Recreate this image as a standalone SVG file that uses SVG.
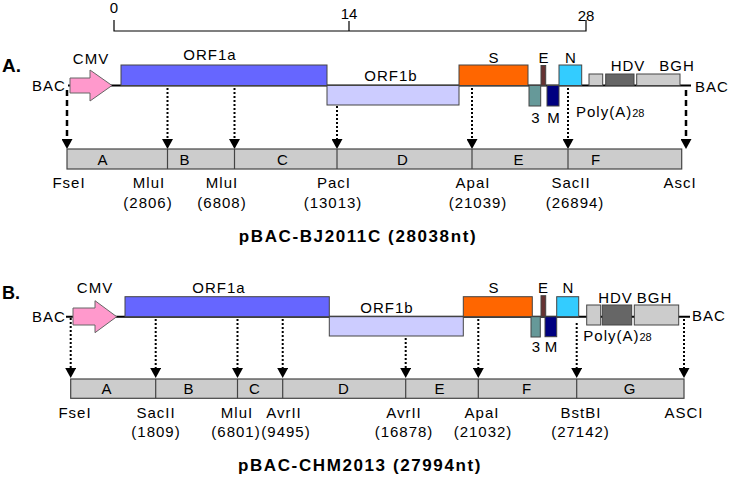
<svg xmlns="http://www.w3.org/2000/svg" width="730" height="481" viewBox="0 0 730 481">
<style>
text{font-family:"Liberation Sans",Arial,sans-serif;font-size:15px;letter-spacing:1px;fill:#000}
.m{text-anchor:middle}
.b{font-weight:bold}
.box{stroke:#444;stroke-width:1}
.bb{stroke:#000;stroke-width:2;fill:none}
.frag{fill:#cccccc;stroke:#444;stroke-width:1.2}
.div{stroke:#444;stroke-width:1.2}
.dot{stroke:#000;stroke-width:2;stroke-dasharray:2,2;fill:none}
.dash{stroke:#000;stroke-width:2.5;stroke-dasharray:6,4;fill:none}
</style>
<defs>
<marker id="ah" viewBox="0 0 10 11" refX="0" refY="5.5" markerWidth="10" markerHeight="11" markerUnits="userSpaceOnUse" orient="auto">
<path d="M0,0 L10,5.5 L0,11 Z" fill="#000"/>
</marker>
</defs>
<g id="scale">
<path d="M114,20 V31 H586 V20 M349,21 V31" stroke="#000" stroke-width="1.2" fill="none"/>
<text class="m" x="114" y="13" style="letter-spacing:0">0</text>
<text class="m" x="349" y="18.5" style="letter-spacing:0">14</text>
<text class="m" x="586" y="20.5" style="letter-spacing:0">28</text>
</g>
<!-- Panel A -->
<g id="panelA-label"><text class="b" x="2" y="72" style="font-size:19px;letter-spacing:0">A.</text></g>
<g id="A-backbone">
<line class="bb" x1="68" y1="85.5" x2="691" y2="85.5"/>
<text x="32" y="90.5">BAC</text>
<text x="695" y="91.5">BAC</text>
</g>
<g id="A-CMV"><polygon points="70,78 90,78 90,70 112,85.5 90,101 90,93 70,93" fill="#ff99cc" stroke="#666" stroke-width="1"/><text class="m" x="91" y="64">CMV</text></g>
<g id="A-ORF1a"><rect class="box" x="121" y="65" width="206" height="20.5" fill="#6666ff"/><text class="m" x="210" y="60">ORF1a</text></g>
<g id="A-ORF1b"><rect class="box" x="327" y="85.5" width="132" height="19.5" fill="#ccccff"/><text class="m" x="391" y="80.5">ORF1b</text></g>
<g id="A-S"><rect class="box" x="459" y="65" width="69" height="20.5" fill="#ff6600"/><text class="m" x="494" y="63">S</text></g>
<g id="A-E"><rect class="box" x="541" y="65.5" width="4.7" height="20" fill="#663333"/><text class="m" x="544" y="63">E</text></g>
<g id="A-N"><rect class="box" x="559" y="65" width="22.7" height="20.5" fill="#33ccff"/><text class="m" x="571" y="63">N</text></g>
<g id="A-3"><rect class="box" x="529" y="85.5" width="11.7" height="20.5" fill="#669999"/><text class="m" x="536" y="123">3</text></g>
<g id="A-M"><rect class="box" x="547" y="85.5" width="12" height="20.5" fill="#000080"/><text class="m" x="554" y="123">M</text></g>
<g id="A-polyA"><rect class="box" x="589" y="74" width="13.7" height="11.5" fill="#cccccc"/><text x="576" y="117">Poly(A)<tspan style="font-size:11px;letter-spacing:0">28</tspan></text></g>
<g id="A-HDV"><rect class="box" x="605.7" y="74" width="28.3" height="11.5" fill="#666666"/><text class="m" x="628" y="71">HDV</text></g>
<g id="A-BGH"><rect class="box" x="636.7" y="74" width="43.3" height="11.5" fill="#cccccc"/><text class="m" x="677" y="71">BGH</text></g>
<g id="A-connectors">
<line class="dash" x1="67" y1="90" x2="67" y2="139" marker-end="url(#ah)"/>
<line class="dot" x1="167.5" y1="88" x2="167.5" y2="139" marker-end="url(#ah)"/>
<line class="dot" x1="234.5" y1="88" x2="234.5" y2="139" marker-end="url(#ah)"/>
<line class="dot" x1="337" y1="106" x2="337" y2="139" marker-end="url(#ah)"/>
<line class="dot" x1="472" y1="88" x2="472" y2="139" marker-end="url(#ah)"/>
<line class="dot" x1="568" y1="88" x2="568" y2="139" marker-end="url(#ah)"/>
<line class="dash" x1="686" y1="90" x2="686" y2="139" marker-end="url(#ah)"/>
</g>
<g id="A-fragments">
<rect class="frag" x="67" y="149" width="614.7" height="20"/>
<path class="div" d="M167.5,149 V169 M234.5,149 V169 M337,149 V169 M472,149 V169 M568,149 V169"/>
<text class="m" x="103" y="165">A</text>
<text class="m" x="185" y="165">B</text>
<text class="m" x="283" y="165">C</text>
<text class="m" x="403" y="165">D</text>
<text class="m" x="519" y="165">E</text>
<text class="m" x="596" y="165">F</text>
</g>
<g id="A-sites">
<text class="m" x="69" y="188">FseI</text>
<text class="m" x="149" y="188">MluI</text><text class="m" x="148" y="207.5">(2806)</text>
<text class="m" x="222" y="188">MluI</text><text class="m" x="222" y="207.5">(6808)</text>
<text class="m" x="334" y="188">PacI</text><text class="m" x="333" y="207.5">(13013)</text>
<text class="m" x="473" y="188">ApaI</text><text class="m" x="478" y="207.5">(21039)</text>
<text class="m" x="571" y="188">SacII</text><text class="m" x="575" y="207.5">(26894)</text>
<text class="m" x="680" y="188">AscI</text>
</g>
<g id="A-title"><text class="m b" x="358" y="242" style="font-size:17px;letter-spacing:1.6px">pBAC-BJ2011C (28038nt)</text></g>
<!-- Panel B -->
<g id="panelB-label"><text class="b" x="2" y="299" style="font-size:18px;letter-spacing:0">B.</text></g>
<g id="B-backbone">
<line class="bb" x1="66" y1="316.7" x2="690" y2="316.7"/>
<text x="32" y="321.7">BAC</text>
<text x="692" y="321">BAC</text>
</g>
<g id="B-CMV"><polygon points="73,308 95,308 95,300.7 116.7,316.7 95,332.7 95,325 73,325" fill="#ff99cc" stroke="#666" stroke-width="1"/><text class="m" x="95" y="293">CMV</text></g>
<g id="B-ORF1a"><rect class="box" x="125" y="296.7" width="204.3" height="20" fill="#6666ff"/><text class="m" x="219" y="293">ORF1a</text></g>
<g id="B-ORF1b"><rect class="box" x="329.3" y="316.7" width="134" height="19.3" fill="#ccccff"/><text class="m" x="387" y="312.7">ORF1b</text></g>
<g id="B-S"><rect class="box" x="463.3" y="296.7" width="69" height="20" fill="#ff6600"/><text class="m" x="494" y="293">S</text></g>
<g id="B-E"><rect class="box" x="541" y="295.7" width="4.7" height="21" fill="#663333"/><text class="m" x="543.5" y="293">E</text></g>
<g id="B-N"><rect class="box" x="556.7" y="296.7" width="22" height="20" fill="#33ccff"/><text class="m" x="568.5" y="293">N</text></g>
<g id="B-3"><rect class="box" x="531" y="316.7" width="9.3" height="20.3" fill="#669999"/><text class="m" x="536.5" y="351.5">3</text></g>
<g id="B-M"><rect class="box" x="545" y="316.7" width="11.7" height="20" fill="#000080"/><text class="m" x="551.5" y="351.5">M</text></g>
<g id="B-polyA"><rect class="box" x="586.7" y="305" width="14" height="20" fill="#cccccc"/><text x="583.3" y="341">Poly(A)<tspan style="font-size:11px;letter-spacing:0">28</tspan></text></g>
<g id="B-HDV"><rect class="box" x="602.3" y="305" width="29.4" height="20" fill="#666666"/><text class="m" x="615.5" y="303">HDV</text></g>
<g id="B-BGH"><rect class="box" x="634.3" y="305" width="44.4" height="20" fill="#cccccc"/><text class="m" x="654.5" y="303">BGH</text></g>
<g id="B-connectors">
<line class="dot" x1="70.7" y1="318" x2="70.7" y2="368" marker-end="url(#ah)"/>
<line class="dot" x1="155.7" y1="319" x2="155.7" y2="368" marker-end="url(#ah)"/>
<line class="dot" x1="237.5" y1="319" x2="237.5" y2="368" marker-end="url(#ah)"/>
<line class="dot" x1="282.7" y1="319" x2="282.7" y2="368" marker-end="url(#ah)"/>
<line class="dot" x1="405.7" y1="338" x2="405.7" y2="368" marker-end="url(#ah)"/>
<line class="dot" x1="478.3" y1="319" x2="478.3" y2="368" marker-end="url(#ah)"/>
<line class="dot" x1="576.7" y1="323" x2="576.7" y2="368" marker-end="url(#ah)"/>
<line class="dot" x1="684" y1="319" x2="684" y2="368" marker-end="url(#ah)"/>
</g>
<g id="B-fragments">
<rect class="frag" x="70.7" y="379" width="613.3" height="19.3"/>
<path class="div" d="M155.7,379 V398.3 M237.5,379 V398.3 M282.7,379 V398.3 M405.7,379 V398.3 M478.3,379 V398.3 M576.7,379 V398.3"/>
<text class="m" x="107" y="394">A</text>
<text class="m" x="189" y="394">B</text>
<text class="m" x="255" y="394">C</text>
<text class="m" x="344" y="394">D</text>
<text class="m" x="440" y="394">E</text>
<text class="m" x="527" y="394">F</text>
<text class="m" x="630" y="394">G</text>
</g>
<g id="B-sites">
<text class="m" x="75" y="418">FseI</text>
<text class="m" x="156" y="418">SacII</text><text class="m" x="156" y="436.5">(1809)</text>
<text class="m" x="237" y="418">MluI</text><text class="m" x="236" y="436.5">(6801)</text>
<text class="m" x="284" y="418">AvrII</text><text class="m" x="286" y="436.5">(9495)</text>
<text class="m" x="404" y="418">AvrII</text><text class="m" x="404" y="436.5">(16878)</text>
<text class="m" x="482" y="418">ApaI</text><text class="m" x="483" y="436.5">(21032)</text>
<text class="m" x="581" y="418">BstBI</text><text class="m" x="580.5" y="436.5">(27142)</text>
<text class="m" x="684" y="418">ASCI</text>
</g>
<g id="B-title"><text class="m b" x="360" y="471" style="font-size:17px;letter-spacing:1.6px">pBAC-CHM2013 (27994nt)</text></g>
</svg>
